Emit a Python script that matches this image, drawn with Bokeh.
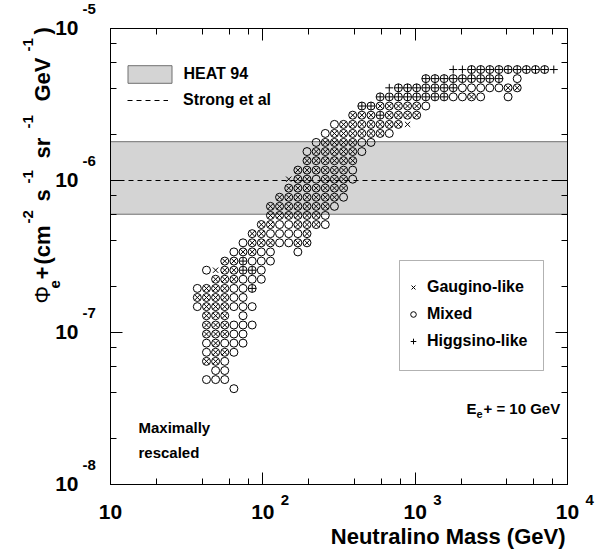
import math
from math import pi
from bokeh.plotting import figure
from bokeh.models import (Label, LogAxis, LogTicker, Legend, LegendItem,
                          BoxAnnotation, CustomJSTickFormatter, Range1d)
from bokeh.embed import file_html
from bokeh.resources import INLINE

# ---------------- data ----------------
# neutralino-mass bin centres (GeV), one per column of the scan grid
mass_bins = [37.15, 42.66, 48.98, 56.23, 64.57, 74.13, 85.11, 97.72, 112.2, 128.8,
             147.9, 169.8, 195.0, 223.9, 257.0, 295.1, 338.8, 389.0, 446.7, 512.9,
             588.8, 676.1, 776.2, 891.3, 1023, 1175, 1349, 1549, 1778, 2042,
             2344, 2692, 3090, 3548, 4074, 4677, 5370, 6166, 7079, 8128]
# positron-flux bin centres (cm^-2 s^-1 sr^-1 GeV^-1), one per row (bottom -> top)
flux_bins = [4.27e-8, 4.90e-8, 5.62e-8, 6.46e-8, 7.41e-8, 8.51e-8, 9.77e-8, 1.12e-7,
             1.29e-7, 1.48e-7, 1.70e-7, 1.95e-7, 2.24e-7, 2.57e-7, 2.95e-7, 3.39e-7,
             3.89e-7, 4.47e-7, 5.13e-7, 5.89e-7, 6.76e-7, 7.76e-7, 8.91e-7, 1.02e-6,
             1.17e-6, 1.35e-6, 1.55e-6, 1.78e-6, 2.04e-6, 2.34e-6, 2.69e-6, 3.09e-6,
             3.55e-6, 4.07e-6, 4.68e-6, 5.37e-6]
# for each row: first occupied column and the cell contents
#   o = mixed, x = gaugino-like, + = higgsino-like, X = mixed+gaugino, P = mixed+higgsino
row_first_col = [4, 1, 2, 1, 1, 1, 1, 1, 1, 0, 0, 0, 2, 1, 3, 4, 5, 6,
                 7, 8, 8, 9, 10, 10, 11, 12, 12, 13, 14, 15, 17, 18, 20, 21, 25, 28]
row_cells = ["o", "ooo", "oo", "XXo", "oXXo", "oXooo", "XXXoo", "XXXooo", "XXX.o",
             "oXXXooo", "XXXXoo", "oXXXooP", "XXXooo", "oxXXPPo", "XXPooo", "oXXoo..o",
             "oXXXooXX", "XXooooX", "XXooXXXo", "XXXXXXo", "XXXXXXXo", "XXXXXXXo",
             "XXXXXXX", "xXXoXXXo", "XXXXXXo", "XXXXXX", "oXXXXXo", "oXXXXoo",
             "oXXXXXXo", "oXXXXXXXx", "XXXPXXXX", "PPXXXXXo", "PPPPPPPPooXo..o",
             "+PPPPPPPoooooXX", "PPPPPPPPP.o", "++PPPPPPPPP+"]

heat94_low, heat94_high = 6.0e-7, 1.8e-6      # HEAT 94 band
strong_flux = 1.0e-6                          # Strong et al
x_lim = (10, 1e4)
y_lim = (1e-8, 1e-5)
x_tick_vals = [10, 100, 1000, 10000]
x_tick_exp = ["", "2", "3", "4"]
y_tick_vals = [1e-5, 1e-6, 1e-7, 1e-8]
y_tick_exp = ["-5", "-6", "-7", "-8"]

# ---------------- split grid into the three model classes ----------------
gau_x, gau_y, mix_x, mix_y, hig_x, hig_y = [], [], [], [], [], []
for r, (c0, cells) in enumerate(zip(row_first_col, row_cells)):
    for i, ch in enumerate(cells):
        m, f = mass_bins[c0 + i], flux_bins[r]
        if ch in "oXP":
            mix_x.append(m); mix_y.append(f)
        if ch in "xX":
            gau_x.append(m); gau_y.append(f)
        if ch in "+P":
            hig_x.append(m); hig_y.append(f)

# ---------------- layout: whole canvas is the frame, axes drawn at fixed places ----------------
W, H = 608, 555
BL, BR, BT, BB = 110, 567, 28, 484          # pixel box of the axes
XDEC = (BR - BL) / 3.0
YDEC = (BB - BT) / 3.0
x0 = 1 - BL / XDEC
x1 = 1 + (W - BL) / XDEC
y1 = -5 + BT / YDEC
y0 = -8 - (H - BB) / YDEC
FONT = "Liberation Sans"

p = figure(width=W, height=H, x_axis_type="log", y_axis_type="log",
           x_axis_location=None, y_axis_location=None,
           x_range=Range1d(10 ** x0, 10 ** x1), y_range=Range1d(10 ** y0, 10 ** y1),
           output_backend="svg", toolbar_location=None,
           min_border=0, min_border_left=0, min_border_right=0,
           min_border_top=0, min_border_bottom=0)
p.grid.visible = False
p.outline_line_color = None
p.background_fill_color = "white"
p.border_fill_color = "white"

blank = CustomJSTickFormatter(code="return ''")
for side, loc, bnds in [("below", y_lim[0], x_lim), ("above", y_lim[1], x_lim),
                        ("left", x_lim[0], y_lim), ("right", x_lim[1], y_lim)]:
    ax = LogAxis(ticker=LogTicker(), formatter=blank, fixed_location=loc, bounds=bnds,
                 major_tick_in=12, major_tick_out=0, minor_tick_in=6, minor_tick_out=0,
                 axis_line_color="black", major_tick_line_color="black",
                 minor_tick_line_color="black", major_label_standoff=0)
    p.add_layout(ax, side)


def xd(px):
    return 10 ** (x0 + px / XDEC)


def yd(py):
    return 10 ** (y1 - py / YDEC)


# HEAT 94 band and Strong et al line
band = p.quad(left=[x_lim[0]], right=[x_lim[1]], bottom=[heat94_low], top=[heat94_high],
              fill_color="#d4d4d4", line_color="#707070", line_width=1)

mix_r = p.scatter(mix_x, mix_y, marker="circle", size=8, fill_color=None,
                  line_color="black", line_width=1)
gau_r = p.scatter(gau_x, gau_y, marker="x", size=7.5, line_color="black", line_width=1)
hig_r = p.scatter(hig_x, hig_y, marker="cross", size=8, line_color="black", line_width=1)

strong = p.line([x_lim[0], x_lim[1]], [strong_flux, strong_flux],
                line_color="black", line_width=1, line_dash="5 4")


def legend(items, loc, gw, gh, standoff, spacing=0):
    lg = Legend(items=items, location=loc, glyph_width=gw, glyph_height=gh,
                label_height=gh, label_standoff=standoff, spacing=spacing,
                padding=0, margin=0, border_line_color=None, background_fill_alpha=0,
                label_text_font=FONT, label_text_font_style="bold",
                label_text_font_size="16px", label_text_color="black")
    p.add_layout(lg)
    return lg


legend([LegendItem(label="HEAT 94", renderers=[band])], (121.5, H - 85), 55, 22, 7)
legend([LegendItem(label="Strong et al", renderers=[strong])], (127, H - 109), 41, 18, 15)

p.add_layout(BoxAnnotation(left=xd(399), right=xd(543), top=yd(260), bottom=yd(370),
                           fill_color="white", fill_alpha=1, line_color="black", line_width=1))
legend([LegendItem(label="Gaugino-like", renderers=[gau_r]),
        LegendItem(label="Mixed", renderers=[mix_r]),
        LegendItem(label="Higgsino-like", renderers=[hig_r])],
       (406, H - 351), 14, 20, 7, spacing=7)


def lab(px, py, text, size, align="left", angle=0.0, style="bold"):
    # Bokeh draws an "alphabetic" label about 0.4 em below its anchor; compensate
    shift = 0.4 * size
    if angle:
        px -= shift
    else:
        py -= shift
    p.add_layout(Label(x=xd(px), y=yd(py), text=text, text_font=FONT,
                       text_font_style=style, text_font_size=f"{size}px",
                       text_color="black", text_align=align, text_baseline="alphabetic",
                       angle=angle))


# tick labels
for v, e in zip(x_tick_vals, x_tick_exp):
    tx = BL + XDEC * (math.log10(v) - 1)
    lab(tx, 520, "10", 21, align="center")
    if e:
        lab(tx + 18, 505, e, 15)
for v, e in zip(y_tick_vals, y_tick_exp):
    ty = BT + YDEC * (-5 - math.log10(v))
    lab(78, ty + 8, "10", 21, align="right")
    lab(82, ty - 14, e, 15)

# axis titles
lab(565, 545, "Neutralino Mass (GeV)", 22, align="right")
rot = pi / 2
for py, txt, size, bx, st in [(303, "\u03a6", 22, 51, "normal"), (288, "e", 15, 60, "bold"),
                              (279, "+", 22, 51, "bold"), (264, "(cm", 22, 51, "bold"),
                              (223, "-2", 15, 33, "bold"), (201, "s", 22, 51, "bold"),
                              (183, "-1", 15, 33, "bold"), (158, "sr", 22, 51, "bold"),
                              (128, "-1", 15, 33, "bold"), (101, "GeV", 22, 51, "bold"),
                              (51, "-1", 15, 33, "bold"), (34, ")", 22, 51, "bold")]:
    lab(bx, py, txt, size, angle=rot, style=st)

# annotations
lab(138, 433, "Maximally", 15)
lab(138, 458, "rescaled", 15)
lab(466, 414, "E", 15)
lab(476, 418, "e", 11)
lab(483, 414, "+ = 10 GeV", 15)

open("out.html", "w").write(file_html(p, INLINE))
